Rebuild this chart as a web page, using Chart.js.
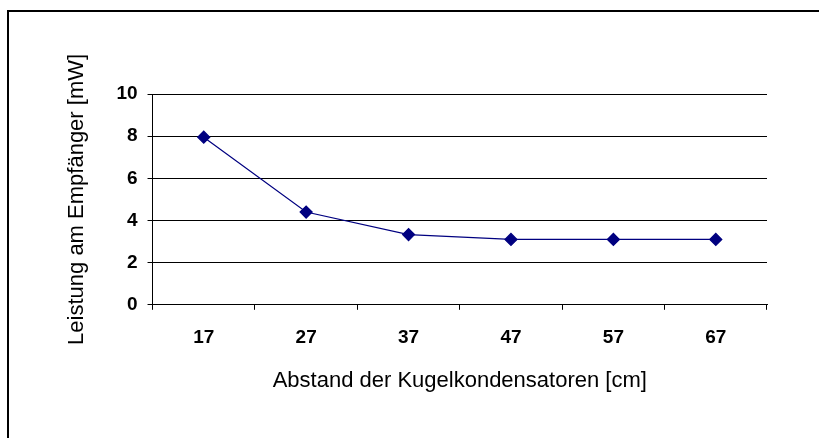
<!DOCTYPE html>
<html>
<head>
<meta charset="utf-8">
<script src="https://cdn.jsdelivr.net/npm/chart.js@4/dist/chart.umd.min.js"></script>
<style>
  html, body { margin: 0; padding: 0; background: #fff; overflow: hidden; }
  #frame {
    position: absolute; left: 7px; top: 10px; width: 812px; height: 428px;
    border-left: 2px solid #000; border-top: 2px solid #000; box-sizing: border-box;
  }
  #wrap { position: absolute; left: 0; top: 0; width: 819px; height: 438px; }
</style>
</head>
<body>
<div id="frame"></div>
<div id="wrap"><canvas id="chart" width="819" height="438"></canvas></div>
<script>
// Abstand [cm] und Leistung [mW]
const abstand = ['17', '27', '37', '47', '57', '67'];
const leistung = [7.95, 4.4, 3.33, 3.1, 3.1, 3.1];
const yTicks = [0, 2, 4, 6, 8, 10];

const fontFamily = 'Arial, "Liberation Sans", sans-serif';

const chart = new Chart(document.getElementById('chart').getContext('2d'), {
  type: 'line',
  data: {
    labels: abstand,
    datasets: [{
      data: leistung,
      borderColor: '#000080',
      backgroundColor: '#000080',
      borderWidth: 1.2,
      pointStyle: 'rectRot',
      pointRadius: 6,
      pointHoverRadius: 6,
      tension: 0,
      fill: false
    }]
  },
  options: {
    responsive: false,
    animation: false,
    layout: { padding: { left: 64, right: 52, top: 94, bottom: 44 } },
    plugins: { legend: { display: false }, tooltip: { enabled: false } },
    scales: {
      x: {
        offset: true,
        grid: { offset: true, drawOnChartArea: false, color: '#000', tickLength: 5, lineWidth: 1 },
        border: { color: '#000', width: 1 },
        ticks: { color: '#000', font: { family: fontFamily, size: 19, weight: 'bold' }, padding: 17 },
        title: {
          display: true, text: 'Abstand der Kugelkondensatoren [cm]', color: '#000',
          font: { family: fontFamily, size: 22 }, padding: { top: 1, bottom: 0 }
        }
      },
      y: {
        min: 0, max: 10,
        afterBuildTicks: scale => { scale.ticks = yTicks.map(v => ({ value: v })); },
        grid: { color: '#000', tickLength: 5, lineWidth: 1 },
        border: { color: '#000', width: 1 },
        ticks: { color: '#000', font: { family: fontFamily, size: 19, weight: 'bold' }, padding: 10 },
        title: {
          display: true, text: 'Leistung am Empfänger [mW]', color: '#000',
          font: { family: fontFamily, size: 22 }, padding: { top: 0, bottom: 16 }
        }
      }
    }
  }
});
</script>
</body>
</html>
